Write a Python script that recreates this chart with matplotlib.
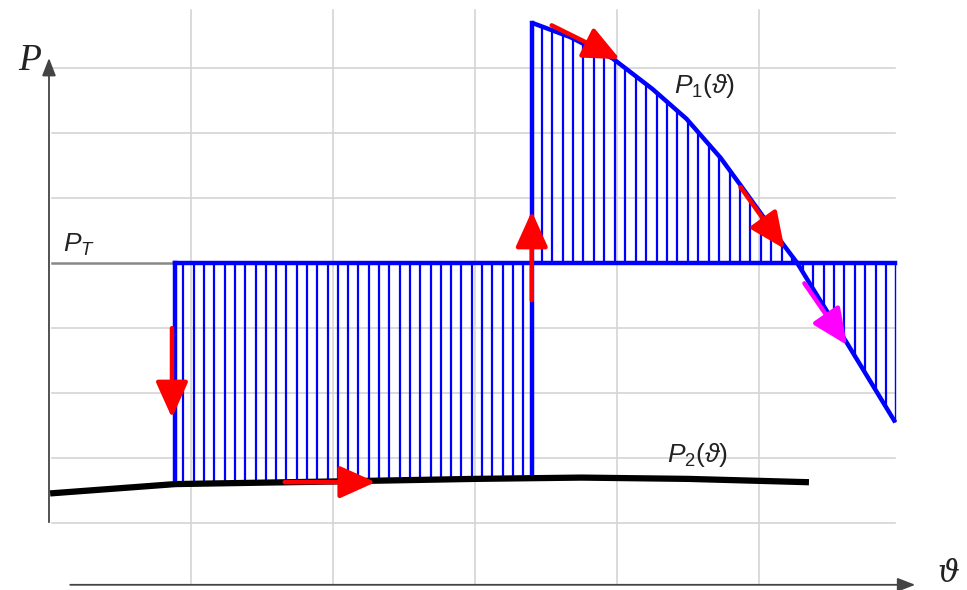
import numpy as np
import matplotlib.pyplot as plt

plt.rcParams['mathtext.fontset'] = 'custom'
plt.rcParams['mathtext.rm'] = 'Liberation Sans'
plt.rcParams['mathtext.it'] = 'Liberation Sans:italic'
plt.rcParams['mathtext.fallback'] = 'stix'

# power-angle curves (theta in grid cells, P in grid cells)
theta_p1 = [3.40, 3.67, 3.97, 4.25, 4.49, 4.73, 4.87, 5.15, 5.27, 5.43, 5.62, 5.96]
p1_vals = [7.70, 7.48, 7.15, 6.68, 6.22, 5.62, 5.20, 4.35, 4.00, 3.43, 2.77, 1.55]

theta_p2 = [0.03, 0.89, 2.0, 3.0, 3.75, 4.5, 5.33]
p2_vals = [0.46, 0.60, 0.64, 0.68, 0.70, 0.68, 0.63]

p_turbine = 4.0
theta_fault = 0.887      # start of the lower (post-fault) section
theta_clear = 3.40       # switching back to P1
theta_end = 5.96

grid_x = [1, 2, 3, 4, 5]
grid_y = [0, 1, 2, 3, 5, 6, 7]

fig = plt.figure(figsize=(9.67, 5.90), dpi=100)
ax = fig.add_axes([0, 0, 1, 1])
ax.set_xlim(-0.345, 6.465)
ax.set_ylim(-1.03, 8.05)
ax.axis('off')

# light grid
for gx in grid_x:
    ax.plot([gx, gx], [-0.92, 7.9], color='#d4d4d4', lw=1.2, zorder=0)
for gy in grid_y:
    ax.plot([0.02, 5.96], [gy, gy], color='#d4d4d4', lw=1.2, zorder=0)
ax.plot([0.02, 5.96], [p_turbine, p_turbine], color='#888888', lw=1.8, zorder=1)

# axes with arrows
ax.annotate('', xy=(0.0, 7.2), xytext=(0.0, -0.03),
            arrowprops=dict(arrowstyle='-|>,head_length=0.9,head_width=0.35',
                            color='#444444', lw=1.3, mutation_scale=12))
ax.annotate('', xy=(6.12, -0.95), xytext=(0.13, -0.95),
            arrowprops=dict(arrowstyle='-|>,head_length=0.9,head_width=0.35',
                            color='#444444', lw=1.3, mutation_scale=12))

blue = '#0000ff'

# hatching of the accelerating area (below P_T, above P2)
hx = np.arange(theta_fault + 0.06, theta_clear, 0.0725)
hy = np.interp(hx, theta_p2, p2_vals)
ax.vlines(hx, hy, p_turbine, color=blue, lw=1.6, zorder=2)

# hatching of the decelerating area (between P_T and P1)
hx2 = np.arange(theta_clear + 0.07, theta_end, 0.0735)
hy2 = np.interp(hx2, theta_p1, p1_vals)
ax.vlines(hx2, hy2, p_turbine, color=blue, lw=1.6, zorder=2)
ax.vlines([theta_end], np.interp(theta_end, theta_p1, p1_vals), p_turbine,
          color=blue, lw=1.0, zorder=2)

# outlines
p2_at_fault = np.interp(theta_fault, theta_p2, p2_vals)
p2_at_clear = np.interp(theta_clear, theta_p2, p2_vals)
ax.plot([theta_fault, theta_fault], [p2_at_fault, p_turbine], color=blue, lw=3.2, zorder=3)
ax.plot([theta_fault, theta_end], [p_turbine, p_turbine], color=blue, lw=3.2, zorder=3)
ax.plot([theta_clear, theta_clear], [p2_at_clear, p1_vals[0]], color=blue, lw=3.2, zorder=3)
ax.plot(theta_p1, p1_vals, color=blue, lw=3.2, zorder=3, solid_capstyle='butt',
        solid_joinstyle='round')

# P2 curve
ax.plot(theta_p2, p2_vals, color='black', lw=4.5, zorder=4)


def arrow(tail, tip, color='red'):
    ax.annotate('', xy=tip, xytext=tail,
                arrowprops=dict(arrowstyle='-|>,head_length=1.0,head_width=0.45',
                                color=color, lw=3.2, mutation_scale=22,
                                shrinkA=0, shrinkB=0), zorder=6)


arrow((0.866, 3.0), (0.866, 1.62))
arrow((1.66, 0.63), (2.30, 0.63))
arrow((3.40, 3.43), (3.40, 4.80))
arrow((3.54, 7.66), (4.02, 7.14))
arrow((4.87, 5.17), (5.18, 4.22))
arrow((5.32, 3.69), (5.62, 2.74), color='#ff00ff')

# labels
ax.text(-0.134, 7.12, 'P', fontsize=27, style='italic',
        family=['Liberation Serif', 'DejaVu Serif'],
        ha='center', va='center', color='#222222')
ax.text(6.33, -0.78, 'ϑ', fontsize=22, style='italic', family=['DejaVu Serif'],
        ha='center', va='center', color='#222222')
ax.text(0.1, 4.28, r'$P_{T}$', fontsize=19, ha='left', va='center', color='#222222')
ax.text(4.40, 6.72, r'$P_{1}(\vartheta)$', fontsize=19, ha='left', va='center', color='#222222')
ax.text(4.35, 1.05, r'$P_{2}(\vartheta)$', fontsize=19, ha='left', va='center', color='#222222')

fig.savefig('out.png', dpi=100)
